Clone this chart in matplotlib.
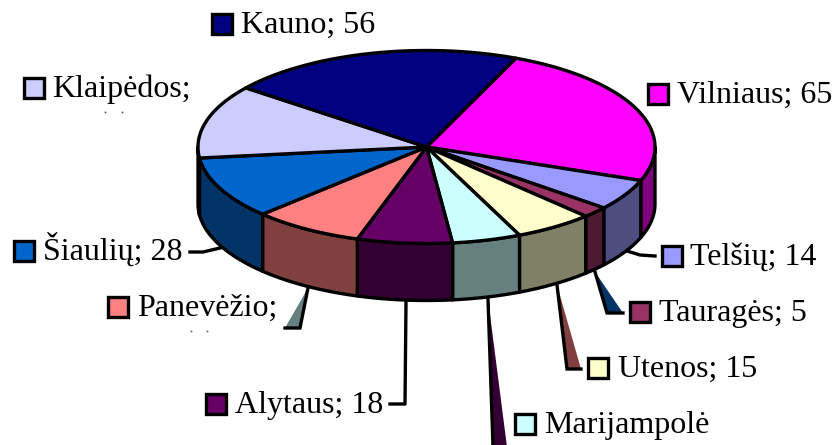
#!/usr/bin/env python3
"""3-D look pie of counties, drawn in pixel coordinates."""

import matplotlib

matplotlib.use("Agg")
import matplotlib.pyplot as plt
import numpy as np
from matplotlib.patches import Polygon, Rectangle

# clockwise from the Kauno/Vilniaus boundary
names = ["Vilniaus", "Telšių", "Tauragės", "Utenos", "Marijampolė",
         "Alytaus", "Panevėžio", "Šiaulių", "Klaipėdos", "Kauno"]
values = [65, 14, 5, 15, 13, 18, 21, 28, 33, 56]
top_colors = ["#FF00FF", "#9999FF", "#993366", "#FFFFCC", "#CCFFFF",
              "#660066", "#FF8080", "#0066CC", "#CCCCFF", "#000080"]
side_colors = ["#800080", "#4D4D80", "#4D1A33", "#808066", "#668080",
               "#330033", "#804040", "#003366", "#666680", "#000040"]
# values of these labels were cut off in the original
hidden_value = ["Klaipėdos", "Panevėžio", "Marijampolė"]

CX, CY = 426.5, 147.0
RX, RY = 228.5, 96.5
DEPTH = 57.0
START = 67.0
LW = 2.4

# name: key left, key top, text left
label_pos = {
    "Kauno": (212, 14, 241),
    "Klaipėdos": (24, 78, 52),
    "Vilniaus": (648, 84, 677),
    "Šiaulių": (14, 241, 43),
    "Panevėžio": (108, 297, 137),
    "Alytaus": (206, 394, 235),
    "Telšių": (662, 246, 690),
    "Tauragės": (630, 302, 659),
    "Utenos": (588, 358, 618),
    "Marijampolė": (515, 414, 544),
}

# wedge shaped leaders: fill colour, then the points
wedge_leaders = [
    ("#668080", [(308, 288), (300, 328), (285, 328)]),
    ("#003366", [(595, 272), (607, 313), (623, 313)]),
    ("#804040", [(557, 285), (567, 369), (581, 369)]),
    ("#330033", [(488, 299), (493, 447), (507, 447)]),
]
line_leaders = [
    [(406, 302), (405, 404), (390, 404)],
    [(190, 252), (203, 252), (220, 248)],
    [(627, 251), (640, 255), (655, 256)],
]


def rim(a0, a1, dy=0.0):
    t = np.radians(np.linspace(a0, a1, 80))
    return np.column_stack([CX + RX * np.cos(t), CY + dy - RY * np.sin(t)])


def main():
    fig = plt.figure(figsize=(8.35, 4.45), dpi=100)
    ax = fig.add_axes([0, 0, 1, 1])
    ax.set_xlim(0, 835)
    ax.set_ylim(445, 0)
    ax.axis("off")

    sweep = np.array(values) * 360.0 / sum(values)
    edges = START - np.concatenate([[0], np.cumsum(sweep)])

    # outer wall, only the part facing the viewer
    for i in range(len(values)):
        a0, a1 = edges[i], edges[i + 1]
        lo, hi = max(a1, -180.0), min(a0, 0.0)
        if hi <= lo:
            continue
        pts = np.vstack([rim(hi, lo), rim(lo, hi, DEPTH)])
        ax.add_patch(Polygon(pts, closed=True, facecolor=side_colors[i],
                             edgecolor="black", lw=LW, joinstyle="round", zorder=2))

    # top face
    for i in range(len(values)):
        pts = np.vstack([[CX, CY], rim(edges[i], edges[i + 1])])
        ax.add_patch(Polygon(pts, closed=True, facecolor=top_colors[i],
                             edgecolor="black", lw=LW, joinstyle="round", zorder=3))

    for color, pts in wedge_leaders:
        ax.add_patch(Polygon(pts, closed=True, facecolor=color, edgecolor="none", zorder=1))
        xs, ys = zip(*pts)
        ax.plot(xs, ys, color="black", lw=LW, zorder=1.5, solid_joinstyle="miter")
    for pts in line_leaders:
        xs, ys = zip(*pts)
        ax.plot(xs, ys, color="black", lw=LW, zorder=1.5)

    for name, value, color in zip(names, values, top_colors):
        kx, ky, tx = label_pos[name]
        ax.add_patch(Rectangle((kx, ky), 20, 20, facecolor=color, edgecolor="black", lw=LW, zorder=4))
        text = f"{name};" if name in hidden_value else f"{name}; {value}"
        if name == "Marijampolė":
            text = name
        ax.text(tx, ky + 19, text, family="Liberation Serif", fontsize=23, color="black",
                ha="left", va="baseline", zorder=5)

    # what is left of the clipped value line
    ax.plot([105, 122, 191, 207], [112, 112, 331, 331], ls="none", marker="s", ms=1.2,
            mfc="#555555", mec="none", zorder=5)

    fig.savefig("out.png", dpi=100)


if __name__ == "__main__":
    main()
